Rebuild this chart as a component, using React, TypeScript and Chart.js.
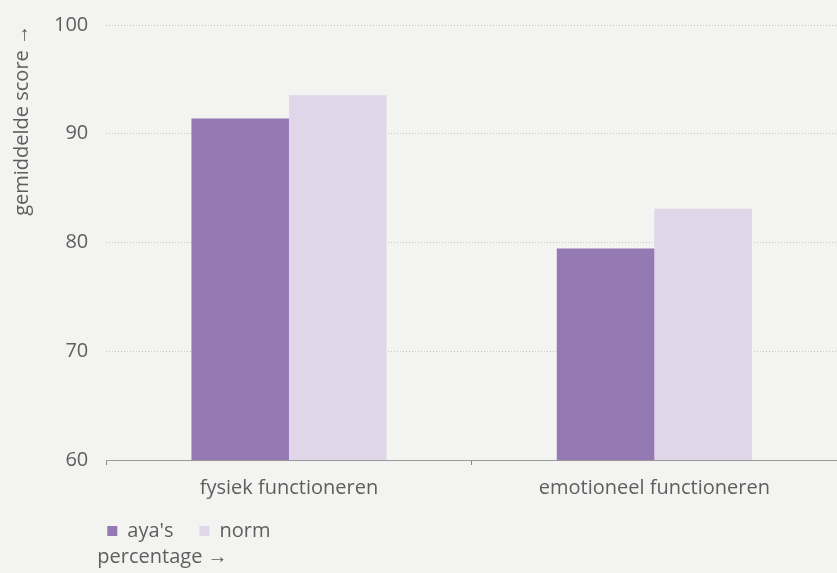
import React, { useEffect, useRef } from "react";
import { Chart, registerables } from "chart.js";
Chart.register(...registerables);

const categories = ["fysiek functioneren", "emotioneel functioneren"];
const ayaValues = [91.4, 79.45];
const normValues = [93.55, 83.1];
const seriesLabels = ["aya's", "norm"];
const yTicks = [60, 70, 80, 90, 100];

const FONT = "'Open Sans', sans-serif";
const FS = 20;
const TEXT = "#5e5e5e";
const LEGEND_PAD = 26;

const shiftPlugin = {
  id: "shiftBottomBlocks",
  afterLayout(chart: any) {
    const ca = chart.chartArea;
    if (chart.legend) {
      chart.legend.left = ca.left - LEGEND_PAD + 1;
      chart.legend.top = ca.bottom + 35;
    }
    if (chart.titleBlock) {
      chart.titleBlock.left = ca.left - 9;
      chart.titleBlock.top = ca.bottom + 103;
    }
  },
};

export default function App() {
  const ref = useRef<HTMLCanvasElement>(null);
  useEffect(() => {
    document.body.style.margin = "0";
    document.body.style.background = "#f3f3f1";
    const chart = new Chart(ref.current!, {
      type: "bar",
      data: {
        labels: categories,
        datasets: [
          { label: seriesLabels[0], data: ayaValues, backgroundColor: "#9579b5", categoryPercentage: 0.534, barPercentage: 1 },
          { label: seriesLabels[1], data: normValues, backgroundColor: "#e1d5e9", categoryPercentage: 0.534, barPercentage: 1 },
        ],
      },
      plugins: [shiftPlugin],
      options: {
        animation: false,
        responsive: false,
        layout: { padding: { top: 5, right: 0, left: 10, bottom: 0 } },
        plugins: {
          legend: {
            position: "bottom",
            align: "start",
            labels: { boxWidth: 10, boxHeight: 10, color: TEXT, font: { family: FONT, size: FS }, padding: LEGEND_PAD },
          },
          title: {
            display: true,
            position: "bottom",
            align: "start",
            text: "percentage \u2192",
            color: TEXT,
            font: { family: FONT, size: FS, weight: "normal" },
            padding: { top: -18, bottom: 0 },
          },
          tooltip: { enabled: false },
        },
        scales: {
          x: {
            grid: { drawOnChartArea: false, drawTicks: true, tickLength: 5, color: "#888" },
            border: { display: true, color: "#999", width: 1 },
            ticks: { color: TEXT, font: { family: FONT, size: FS }, padding: 11 },
          },
          y: {
            min: yTicks[0],
            max: yTicks[yTicks.length - 1],
            afterBuildTicks: (axis: any) => {
              axis.ticks = yTicks.map((v) => ({ value: v }));
            },
            ticks: { color: TEXT, font: { family: FONT, size: FS, lineHeight: 0.7 }, padding: 18 },
            grid: { drawTicks: false, color: "#c4c4c4" },
            border: { display: false, dash: [1, 2] },
            title: {
              display: true,
              text: "gemiddelde score \u2192",
              align: "end",
              color: TEXT,
              font: { family: FONT, size: FS },
              padding: { top: 0, bottom: 2 },
            },
          },
        },
      },
    });
    return () => chart.destroy();
  }, []);
  return <canvas ref={ref} width={837} height={573} style={{ display: "block", background: "#f3f3f1" }} />;
}
